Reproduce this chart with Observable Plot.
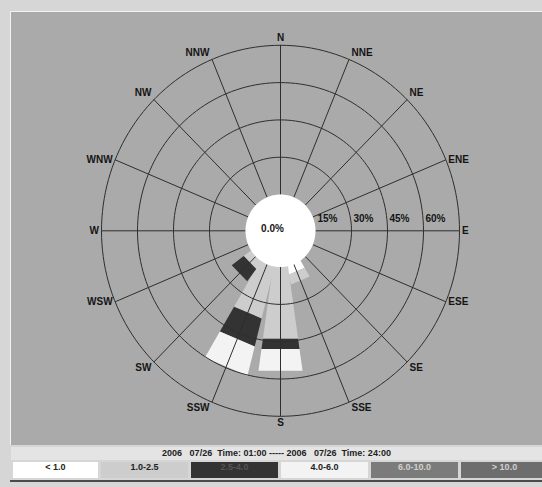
<!DOCTYPE html>
<html>
<head>
<meta charset="utf-8">
<script src="https://cdn.jsdelivr.net/npm/d3@7"></script>
<script src="https://cdn.jsdelivr.net/npm/@observablehq/plot@0.6"></script>
<style>
  html, body { margin: 0; padding: 0; background: #d6d6d6; }
  #wrap { position: relative; width: 542px; height: 487px; overflow: hidden; background: #d6d6d6; }
  #panel { position: absolute; left: 10px; top: 11px; width: 531px; height: 433px; background: #aaaaaa;
           border-top: 1px solid #f2f2f2; border-left: 1px solid #f2f2f2; }
  #panel svg { display: block; }
  #strip { position: absolute; left: 11px; top: 447px; width: 531px; height: 13px; background: #e4e4e4;
           font: bold 9px "Liberation Sans", Arial, sans-serif; color: #222; text-align: center;
           line-height: 13px; white-space: pre; }
  #legend { position: absolute; left: 0; top: 462px; width: 542px; height: 16px; }
  .box { position: absolute; top: 0; height: 16px; width: 87px; text-align: center; line-height: 16px;
         font: bold 9px "Liberation Sans", Arial, sans-serif; }
  #bottomline { position: absolute; left: 10px; top: 480px; width: 532px; height: 2px; background: #4a4a4a; }
</style>
</head>
<body>
<div id="wrap">
  <div id="panel"></div>
  <div id="strip"></div>
  <div id="legend"></div>
  <div id="bottomline"></div>
</div>
<script>
// ---------- data ----------
const directions = ["N","NNE","NE","ENE","E","ESE","SE","SSE","S","SSW","SW","WSW","W","WNW","NW","NNW"];
const speedClasses = ["< 1.0", "1.0-2.5", "2.5-4.0", "4.0-6.0", "6.0-10.0", "> 10.0"];
// frequency (%) per direction for each speed class
const freqLt1    = [0,0,0,0,0,0,0,3.0, 0,   0,   0,  0,0,0,0,0];
const freq1to25  = [0,0,0,0,0,0,0,4.0, 28.8,21.0,3.4,0,0,0,0,0];
const freq25to4  = [0,0,0,0,0,0,0,0,   4.1, 11.5,6.2,0,0,0,0,0];
const freq4to6   = [0,0,0,0,0,0,0,0,   8.8, 12.0,0,  0,0,0,0,0];
const freq6to10  = [0,0,0,0,0,0,0,0,   0,   0,   0,  0,0,0,0,0];
const freqGt10   = [0,0,0,0,0,0,0,0,   0,   0,   0,  0,0,0,0,0];
const ringValues = [15, 30, 45, 60];
const calmLabel = "0.0%";
const periodText = "2006   07/26  Time: 01:00 ----- 2006   07/26  Time: 24:00";

// ---------- styles ----------
const classColors = ["#ffffff", "#cdcdcd", "#333333", "#f3f3f3", "#7b7b7b", "#6d6d6d"];
const classTextColors = ["#222", "#222", "#555", "#222", "#d0d0d0", "#d0d0d0"];
const series = [freqLt1, freq1to25, freq25to4, freq4to6, freq6to10, freqGt10];

const maxPct = 60;
const rho0 = 35 / 179;                 // calm circle radius, relative to the outer ring
const rho = p => rho0 + (1 - rho0) * p / maxPct;
const rad = a => a * Math.PI / 180;
const px = (r, a) => r * Math.sin(rad(a));
const py = (r, a) => r * Math.cos(rad(a));
const halfW = r => 0.0145 + 0.144 * r; // half width of a bar at relative radius r

// bars (trapezoids along each direction)
const bars = [];
directions.forEach((d, i) => {
  const a = i * 22.5;
  const ux = Math.sin(rad(a)), uy = Math.cos(rad(a));
  const nx = Math.cos(rad(a)), ny = -Math.sin(rad(a));
  let cum = 0;
  series.forEach((s, k) => {
    const v = s[i];
    if (v > 0) {
      const ra = cum === 0 ? rho0 * 0.8 : rho(cum);
      const rb = rho(cum + v);
      const id = d + "-" + k;
      const ha = halfW(ra), hb = halfW(rb);
      [[ra, -ha], [ra, ha], [rb, hb], [rb, -hb], [ra, -ha]].forEach(([r, h]) =>
        bars.push({id, cls: k, x: ux * r + nx * h, y: uy * r + ny * h}));
      cum += v;
    }
  });
});

// rings
const ringPts = [];
ringValues.forEach(v => {
  for (let a = 0; a <= 360; a += 2) ringPts.push({ring: v, x: px(rho(v), a), y: py(rho(v), a)});
});
const calmPts = [];
for (let a = 0; a <= 360; a += 2) calmPts.push({x: px(rho0, a), y: py(rho0, a)});

// radial lines
const spokes = directions.map((d, i) => {
  const a = i * 22.5;
  return {d, x1: px(rho0, a), y1: py(rho0, a), x2: px(1, a), y2: py(1, a)};
});

// compass labels
const RX = 179, RY = 185.5;
const labels = directions.map((d, i) => {
  const a = i * 22.5;
  const s = Math.sin(rad(a)), c = Math.cos(rad(a));
  let ox = 0, oy = 0;
  if (Math.abs(c) > 0.6) oy = c > 0 ? 6.5 : -6;
  if (Math.abs(s) < 0.1) { oy = c > 0 ? 7.5 : -6.5; }
  else ox = s > 0 ? 2.5 : -2.5;
  return {d, a, side: Math.abs(s) < 0.1 ? "middle" : (s > 0 ? "start" : "end"),
          x: s + ox / RX, y: c + oy / RY};
});

const ringLabels = ringValues.map(v => ({text: v + "%", x: rho(v - 15), y: 0}));

const cx = 280 - 11, cy = 230.3 - 12;
const font = "'Liberation Sans', Arial, sans-serif";

const marks = [];
series.forEach((s, k) => {
  marks.push(Plot.line(bars.filter(p => p.cls === k), {x: "x", y: "y", z: "id", fill: classColors[k], stroke: "none", curve: "linear"}));
});
marks.push(Plot.line(ringPts, {x: "x", y: "y", z: "ring", stroke: "#2e2e2e", strokeWidth: 1}));
marks.push(Plot.link(spokes, {x1: "x1", y1: "y1", x2: "x2", y2: "y2", stroke: "#2e2e2e", strokeWidth: 1}));
marks.push(Plot.line(calmPts, {x: "x", y: "y", fill: "white", stroke: "none"}));
["start", "end", "middle"].forEach(anchor => {
  marks.push(Plot.text(labels.filter(l => l.side === anchor), {
    x: "x", y: "y", text: "d", textAnchor: anchor, lineAnchor: "middle",
    fontFamily: font, fontWeight: "bold", fontSize: 10, fill: "#151515"
  }));
});
marks.push(Plot.text(ringLabels, {x: "x", y: "y", text: "text", dx: 2, dy: -12, textAnchor: "start", lineAnchor: "middle",
  fontFamily: font, fontWeight: "bold", fontSize: 10, fill: "#151515"}));
marks.push(Plot.text([calmLabel], {x: () => 0, y: () => 0, text: d => d, dx: -8, dy: -2, lineAnchor: "middle",
  fontFamily: font, fontWeight: "bold", fontSize: 10, fill: "#151515"}));

const chart = Plot.plot({
  width: 531, height: 433, margin: 0,
  x: {domain: [-1, 1], range: [cx - RX, cx + RX], axis: null},
  y: {domain: [-1, 1], range: [cy + RY, cy - RY], axis: null},
  style: {background: "transparent", overflow: "visible"},
  marks
});
document.getElementById("panel").appendChild(chart);

document.getElementById("strip").textContent = periodText;
const legend = document.getElementById("legend");
speedClasses.forEach((c, i) => {
  const b = document.createElement("div");
  b.className = "box";
  b.style.left = (i === 0 ? 13 : 11 + 90 * i) + "px";
  b.style.width = (i === 0 ? 85 : 87) + "px";
  b.style.background = classColors[i];
  b.style.color = classTextColors[i];
  b.textContent = c;
  legend.appendChild(b);
});
</script>
</body>
</html>
